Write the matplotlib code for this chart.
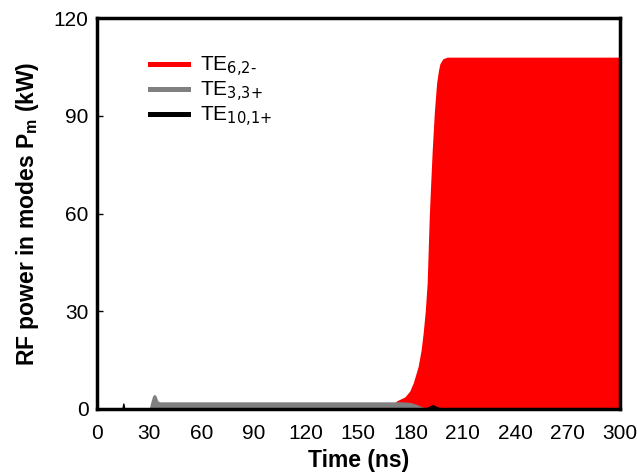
import numpy as np
import matplotlib.pyplot as plt

plt.rcParams['font.family'] = ['Liberation Sans', 'DejaVu Sans']

# envelopes of the RF power traces (kW) vs time (ns)
t_red = [0, 168, 172, 176.7, 179.5, 181.5, 184.3, 186, 187.2, 188.4, 189.5, 190.7, 191.5, 192.4,
         193.6, 194.9, 196, 196.8, 198.5, 201, 300]
p_red = [0, 0, 2.5, 3.7, 5.5, 8.0, 13, 18, 23.3, 30, 38.7, 59, 69, 79.5,
         91, 100, 104, 106, 107.5, 108, 108]

t_gray = [0, 30, 31, 32, 33, 34, 35, 36, 175, 180, 183, 186, 189, 191, 300]
p_gray = [0, 0, 2.2, 4.0, 4.5, 4.0, 2.5, 2.2, 2.2, 2.0, 1.5, 0.8, 0.2, 0, 0]

t_black = [0, 15, 15.5, 16, 189, 191, 193, 195, 197, 300]
p_black = [0, 0, 1.5, 0, 0, 0.5, 1.0, 0.5, 0, 0]

labels = ['TE$_{6{,}2\\text{-}}$', 'TE$_{3{,}3{+}}$', 'TE$_{10{,}1{+}}$']

fig = plt.figure(figsize=(6.37, 4.75), dpi=100)
ax = fig.add_axes([0.152, 0.139, 0.821, 0.823])

ax.fill_between(t_red, 0, p_red, color='#ff0000', lw=0)
ax.fill_between(t_gray, 0, p_gray, color='#808080', lw=0)
ax.fill_between(t_black, 0, p_black, color='black', lw=0)
ax.plot(t_black, p_black, color='black', lw=1)

# legend handles
ax.plot([], [], color='#ff0000', lw=3.6, label=labels[0])
ax.plot([], [], color='#808080', lw=3.6, label=labels[1])
ax.plot([], [], color='black', lw=3.6, label=labels[2])
ax.legend(loc='upper left', bbox_to_anchor=(0.065, 0.955), frameon=False,
          fontsize=15, handlelength=1.85, labelspacing=0.05, handletextpad=0.55)

ax.set_xlim(0, 300)
ax.set_ylim(0, 120)
ax.set_xticks(np.arange(0, 301, 30))
ax.set_yticks(np.arange(0, 121, 30))
ax.tick_params(direction='in', length=4, width=1, labelsize=15, pad=6)
ax.tick_params(axis='x', length=0, pad=11)
for s in ax.spines.values():
    s.set_linewidth(2.5)

ax.set_xlabel('Time (ns)', fontsize=16.5, fontweight='bold', labelpad=4)
ax.set_ylabel('RF power in modes P$_\\mathregular{m}$ (kW)', fontsize=16.5, fontweight='bold', labelpad=9)

fig.savefig('out.png', dpi=100)
